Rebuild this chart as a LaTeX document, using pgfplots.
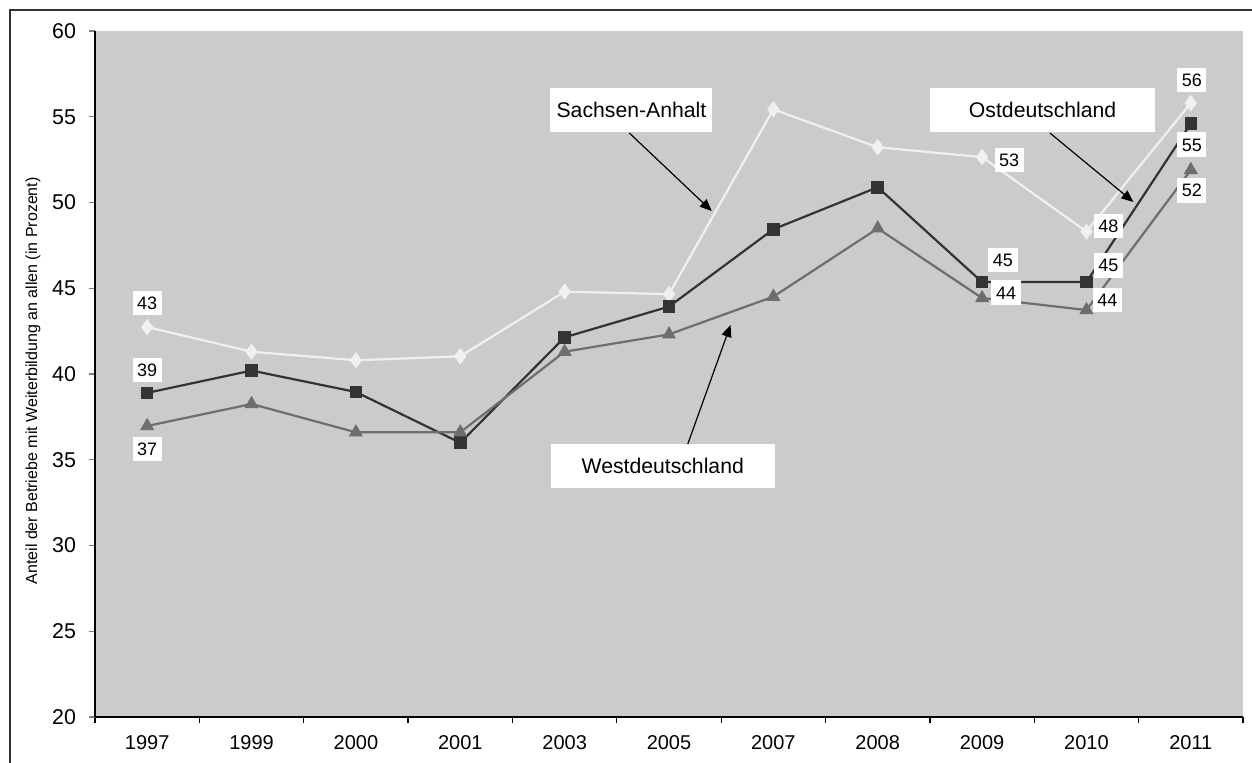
\documentclass[border=0pt]{standalone}
\usepackage{fontspec}
\setmainfont{Liberation Sans}
\usepackage{pgfplots}
\pgfplotsset{compat=1.18}
\usetikzlibrary{arrows.meta}

\definecolor{plotbg}{HTML}{CBCBCB}
\definecolor{sachsen}{HTML}{F0F0F0}
\definecolor{ost}{HTML}{333333}
\definecolor{west}{HTML}{6E6E6E}

\begin{document}
\begin{tikzpicture}
\path[use as bounding box] (-47.5pt,-22.5pt) rectangle (578.5pt,358.5pt);
\fill[white] (-47.5pt,-22.5pt) rectangle (578.5pt,358.5pt);
\draw[line width=0.8pt,color=ost] (-42.5pt,-23pt) -- (-42.5pt,353.5pt) -- (579pt,353.5pt);

\begin{axis}[
    at={(0,0)}, anchor=south west,
    scale only axis,
    width=574pt, height=343pt,
    xmin=-0.5, xmax=10.5,
    ymin=20, ymax=60,
    axis lines*=left,
    axis line style={line width=0.6pt},
    axis background/.style={fill=plotbg},
    xtick={0,...,10},
    xticklabels={1997,1999,2000,2001,2003,2005,2007,2008,2009,2010,2011},
    minor xtick={-0.5,0.5,...,10.5},
    ytick={20,25,...,60},
    tick align=outside,
    major tick length=3pt,
    minor tick length=3pt,
    x tick style={draw=none},
    minor x tick style={draw=black, line width=0.6pt},
    y tick style={line width=0.6pt},
    /pgf/number format/assume math mode=true,
    xticklabel style={font=\fontsize{10}{12}\selectfont, yshift=-2.8pt},
    yticklabel style={font=\fontsize{10.7}{12}\selectfont, xshift=-3pt},
    ylabel={Anteil der Betriebe mit Weiterbildung an allen (in Prozent)},
    ylabel style={font=\fontsize{8}{10}\selectfont, at={(axis description cs:-0.054,0.49)}, anchor=center},
    clip=false,
  ]

  % Sachsen-Anhalt
  \addplot[color=sachsen, line width=1.1pt, mark=diamond*, mark size=3.2pt,
           mark options={fill=sachsen, draw=sachsen}]
    coordinates {(0,42.74) (1,41.3) (2,40.8) (3,41.03) (4,44.8) (5,44.66)
                 (6,55.43) (7,53.22) (8,52.65) (9,48.3) (10,55.8)};

  % Ostdeutschland
  \addplot[color=ost, line width=1.1pt, mark=square*, mark size=2.6pt,
           mark options={fill=ost}]
    coordinates {(0,38.9) (1,40.2) (2,38.95) (3,35.99) (4,42.14) (5,43.93)
                 (6,48.44) (7,50.89) (8,45.36) (9,45.36) (10,54.6)};

  % Westdeutschland
  \addplot[color=west, line width=1.1pt, mark=triangle*, mark size=3pt,
           mark options={fill=west}]
    coordinates {(0,36.97) (1,38.25) (2,36.6) (3,36.6) (4,41.3) (5,42.31)
                 (6,44.51) (7,48.49) (8,44.43) (9,43.73) (10,51.9)};

  % data labels
  \tikzset{dlab/.style={fill=white, inner xsep=2.3pt, inner ysep=2.8pt,
           text height=6.5pt, text depth=0pt, font=\fontsize{9}{10}\selectfont}}
  \node[dlab] at (axis cs:0,44.14) {43};
  \node[dlab] at (axis cs:0,40.23) {39};
  \node[dlab] at (axis cs:0,35.63) {37};
  \node[dlab] at (axis cs:8.26,52.48) {53};
  \node[dlab] at (axis cs:9.21,48.63) {48};
  \node[dlab] at (axis cs:8.2,46.65) {45};
  \node[dlab] at (axis cs:9.21,46.33) {45};
  \node[dlab] at (axis cs:8.23,44.75) {44};
  \node[dlab] at (axis cs:9.2,44.31) {44};
  \node[dlab] at (axis cs:10.01,57.14) {56};
  \node[dlab] at (axis cs:10.01,53.38) {55};
  \node[dlab] at (axis cs:10.01,50.7) {52};

  % annotations
  \tikzset{ann/.style={fill=white, minimum height=22pt, inner sep=0pt,
           font=\fontsize{10.6}{12}\selectfont},
           annarrow/.style={line width=0.6pt, -{Triangle[length=6pt,width=5pt]}}}
  \node[ann, minimum width=81pt] at (axis cs:4.64,55.39) {Sachsen-Anhalt};
  \draw[annarrow] (axis cs:4.62,54.05) -- (axis cs:5.41,49.5);
  \node[ann, minimum width=112.5pt] at (axis cs:8.58,55.39) {Ostdeutschland};
  \draw[annarrow] (axis cs:8.65,54.05) -- (axis cs:9.45,50.03);
  \node[ann, minimum width=112pt] at (axis cs:4.94,34.64) {Westdeutschland};
  \draw[annarrow] (axis cs:5.18,35.92) -- (axis cs:5.59,42.86);
\end{axis}
\end{tikzpicture}
\end{document}
